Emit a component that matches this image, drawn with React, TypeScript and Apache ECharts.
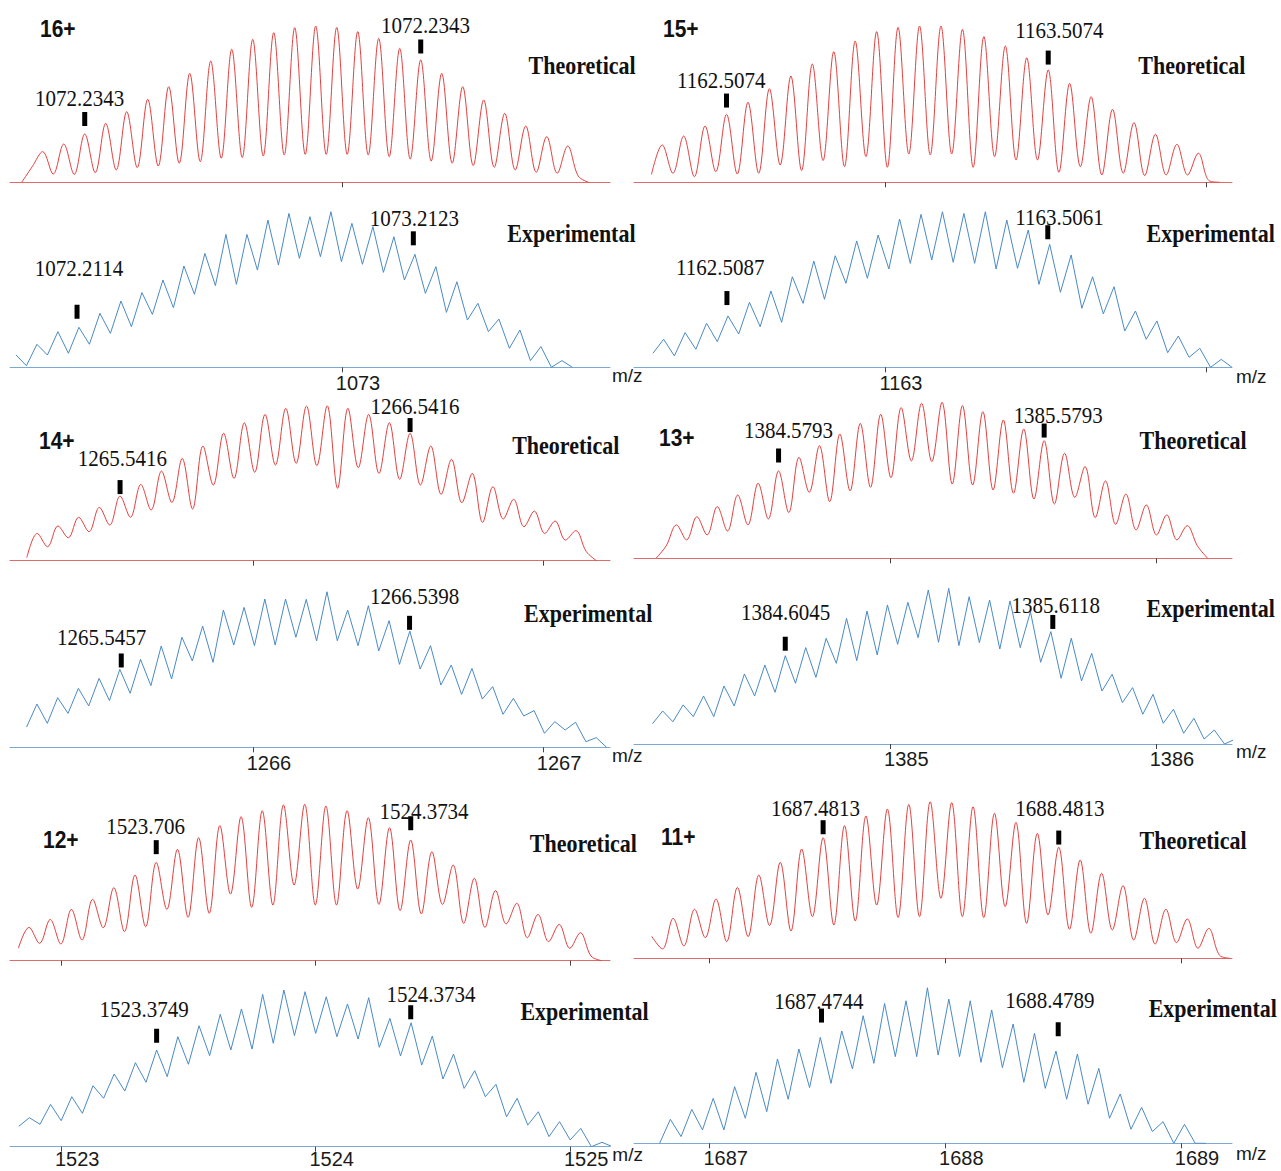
import React, { useEffect, useRef } from 'react';
import * as echarts from 'echarts';

// ---------------- DATA (relative intensity, %) ----------------
// Apex heights of the isotope peaks and the valleys between them, first peak m/z, charge.
const CHARGES = [16, 16, 15, 15, 14, 14, 13, 13, 12, 12, 11, 11];
const KINDS = ['T', 'E', 'T', 'E', 'T', 'E', 'T', 'E', 'T', 'E', 'T', 'E'];
const FIRST_PEAK_MZ = [1072.1093, 1072.092, 1162.3074, 1162.312, 1265.2559, 1265.255, 1384.1947, 1384.143, 1522.8734, 1522.8749, 1686.8449, 1686.833];

const T16_PEAKS = [19.6, 24.5, 30.9, 37.7, 45.2, 53.1, 61.2, 69.7, 77.6, 85.1, 91.5, 95.7, 98.9, 100, 99.1, 96.4, 92.1, 85.7, 78.3, 69.7, 61.2, 52.7, 44.1, 36.0, 29.2, 23.2];
const T16_VALLEYS = [5.3, 5.1, 6.2, 7.9, 9.4, 10.4, 12.2, 13.2, 15.4, 15.8, 16.8, 17.5, 17.9, 17.9, 17.9, 17.5, 16.4, 14.9, 13.6, 12.2, 10.7, 9.6, 7.9, 6.4, 5.8];
const E16_PEAKS = [14.8, 22.9, 25.7, 34.7, 42.6, 48.0, 56.1, 65.1, 73.2, 85.4, 85.4, 94.6, 98.9, 96.8, 100, 92.5, 90.4, 83.9, 72.6, 64.7, 55.0, 41.1, 31.0, 24.0, 13.3, 4.3];
const E16_VALLEYS = [7.9, 9.0, 14.8, 21.8, 26.1, 34.0, 38.3, 46.9, 52.5, 53.3, 62.5, 65.7, 70.0, 71.1, 67.9, 66.2, 61.0, 56.1, 47.5, 35.3, 30.4, 22.9, 12.2, 4.3, 0];

const T15_PEAKS = [23.9, 29.6, 36.0, 43.5, 51.2, 59.9, 68.0, 75.7, 83.6, 90.4, 96.4, 99.1, 100, 100, 97.9, 93.2, 87.2, 79.7, 71.9, 63.3, 54.8, 46.7, 38.2, 30.7, 24.3, 18.6];
const T15_VALLEYS = [5.8, 3.6, 6.8, 5.3, 5.8, 11.1, 7.5, 13.9, 10.0, 16.4, 9.6, 18.1, 17.5, 18.1, 9.6, 16.4, 14.3, 14.3, 6.4, 10.0, 4.7, 5.8, 4.3, 4.7, 4.7];
const E15_PEAKS = [18.0, 22.3, 28.3, 33.0, 41.8, 49.0, 58.2, 68.3, 71.7, 81.2, 85.0, 95.3, 98.3, 100, 98.9, 100, 94.6, 88.2, 79.0, 72.2, 58.2, 51.8, 36.2, 29.8, 20.1, 12.2, 5.1];
const E15_VALLEYS = [7.3, 11.6, 16.5, 21.4, 26.1, 28.9, 41.1, 43.7, 54.0, 57.2, 63.2, 66.8, 69.0, 67.5, 66.8, 63.2, 63.6, 53.3, 48.2, 37.9, 34.3, 23.3, 18.0, 9.4, 6.4, 0];

const T14_PEAKS = [17.6, 22.4, 28.0, 34.4, 41.7, 49.2, 57.8, 66.0, 74.0, 82.2, 89.0, 94.4, 98.3, 99.8, 100, 98.3, 94.4, 89.0, 82.2, 74.0, 65.4, 56.3, 47.7, 39.6, 32.0, 25.6, 19.4];
const T14_VALLEYS = [9.0, 14.8, 18.7, 23.0, 28.0, 32.7, 37.6, 33.3, 48.8, 53.1, 57.0, 61.7, 62.8, 61.3, 46.7, 60.0, 56.3, 52.5, 48.8, 42.8, 37.4, 24.7, 26.9, 21.9, 17.6, 13.3];
const E14_PEAKS = [27.8, 31.9, 37.9, 44.3, 50.1, 56.5, 65.1, 70.7, 77.9, 88.2, 89.9, 95.3, 95.3, 95.1, 100, 88.2, 91.0, 81.4, 74.7, 65.3, 52.9, 50.7, 39.0, 31.5, 23.6, 16.5, 16.1, 6.2];
const E14_VALLEYS = [15.4, 21.8, 26.6, 30.0, 34.7, 39.6, 43.9, 55.5, 54.6, 65.7, 65.3, 65.7, 70.7, 68.3, 68.5, 65.3, 61.9, 53.3, 50.3, 40.0, 34.0, 31.0, 21.2, 20.1, 9.0, 11.1, 3.6];

const T13_PEAKS = [21.4, 26.7, 33.1, 40.6, 48.1, 56.0, 64.7, 72.2, 79.7, 86.5, 92.3, 96.6, 99.4, 100, 97.9, 94.0, 88.7, 82.9, 75.4, 67.3, 58.8, 49.6, 41.2, 34.2, 27.8, 20.9];
const T13_VALLEYS = [11.8, 15.0, 17.5, 21.4, 25.2, 29.3, 42.3, 36.3, 43.2, 45.5, 51.7, 62.4, 62.0, 47.6, 47.0, 43.8, 41.7, 38.0, 34.8, 39.1, 26.1, 21.8, 18.2, 15.0, 11.8];
const E13_PEAKS = [21.2, 25.1, 30.8, 37.3, 45.0, 50.7, 56.7, 61.9, 67.9, 80.7, 85.4, 89.3, 91.0, 98.9, 100, 94.6, 92.5, 91.9, 85.0, 72.2, 67.9, 58.2, 44.8, 36.2, 31.9, 22.3, 16.5, 9.0];
const E13_VALLEYS = [14.3, 17.6, 17.6, 24.4, 30.8, 33.2, 39.0, 42.8, 51.8, 53.5, 57.2, 64.0, 68.3, 65.3, 63.2, 65.1, 61.0, 61.9, 52.5, 42.2, 40.5, 34.0, 26.6, 19.1, 13.3, 6.9, 3.2];

const T12_PEAKS = [21.3, 26.4, 32.8, 39.2, 46.7, 54.8, 62.9, 71.2, 78.7, 86.4, 92.1, 95.9, 99.6, 100, 98.9, 95.9, 91.5, 85.1, 77.2, 69.7, 61.2, 52.7, 44.8, 36.7, 29.6, 23.2, 17.9];
const T12_VALLEYS = [11.1, 10.7, 13.2, 21.1, 18.6, 21.7, 32.8, 27.7, 30.3, 42.6, 34.1, 35.6, 48.4, 35.6, 35.6, 45.8, 36.0, 32.0, 29.9, 36.0, 23.9, 21.3, 23.5, 14.7, 12.2, 7.9];
const E12_PEAKS = [18.5, 27.0, 31.9, 38.9, 46.4, 53.6, 61.7, 70.2, 77.2, 84.5, 87.9, 97.2, 100, 98.9, 95.7, 91.1, 95.1, 81.9, 79.1, 70.6, 59.1, 48.5, 39.8, 30.9, 22.3, 16.0, 11.7, 2.8];
const E12_VALLEYS = [14.3, 16.6, 21.3, 30.9, 35.5, 41.1, 44.7, 52.6, 58.1, 61.7, 62.3, 66.0, 70.9, 72.3, 70.2, 68.7, 63.4, 57.9, 52.1, 43.2, 37.2, 31.9, 19.1, 13.8, 6.4, 4.3, 0];

const T11_PEAKS = [25.5, 31.3, 37.9, 45.3, 53.2, 61.3, 69.8, 77.0, 84.7, 90.9, 95.3, 98.3, 100, 99.4, 96.8, 92.6, 86.8, 79.8, 70.9, 62.8, 54.3, 46.4, 38.3, 31.3, 25.1, 19.1];
const T11_VALLEYS = [7.9, 13.2, 10.6, 13.8, 20.9, 17.4, 26.6, 21.3, 23.8, 34.0, 26.0, 26.6, 38.3, 26.6, 26.0, 33.0, 22.3, 27.7, 18.5, 16.0, 18.1, 11.7, 9.1, 10.0, 6.4];
const E11_PEAKS = [15.4, 21.8, 28.9, 36.4, 45.6, 54.2, 60.6, 68.1, 72.2, 82.0, 89.9, 91.6, 100, 92.7, 91.6, 85.7, 76.7, 70.7, 59.3, 57.4, 48.2, 31.7, 23.1, 13.9, 12.2];
const E11_VALLEYS = [4.3, 8.6, 8.6, 16.1, 20.3, 28.3, 35.8, 38.5, 47.8, 51.4, 55.7, 55.7, 56.7, 55.7, 52.0, 48.6, 39.2, 35.3, 28.3, 25.1, 16.1, 9.0, 7.5, 0];

// intensities one and half a spacing before the first peak, and after the last peak
const EDGES = [
  [0, 10, 4, 0], [8, 1, 0, null],
  [null, 5, 1, 0], [null, 9, 0, null],
  [null, 2, 6, 0], [null, 13, 0, null],
  [0, 8, 8, 0], [null, 13, 0, 3],
  [null, 8, 3, 0], [null, 13, 0, null],
  [14, 6, 2, 0], [null, 0, 0, 0],
];

const PEAKS = [T16_PEAKS, E16_PEAKS, T15_PEAKS, E15_PEAKS, T14_PEAKS, E14_PEAKS, T13_PEAKS, E13_PEAKS, T12_PEAKS, E12_PEAKS, T11_PEAKS, E11_PEAKS];
const VALLEYS = [T16_VALLEYS, E16_VALLEYS, T15_VALLEYS, E15_VALLEYS, T14_VALLEYS, E14_VALLEYS, T13_VALLEYS, E13_VALLEYS, T12_VALLEYS, E12_VALLEYS, T11_VALLEYS, E11_VALLEYS];

// m/z axis: window and tick values
const AXIS_MIN = [1072.0119, 1162.2198, 1265.1621, 1384.035, 1522.7988, 1686.6788];
const AXIS_MAX = [1073.7976, 1164.0787, 1267.2310, 1386.2865, 1525.1564, 1689.2164];
const TICKS = [[1073], [1163, 1164], [1266, 1267], [1385, 1386], [1523, 1524, 1525], [1687, 1688, 1689]];
const TICK_LABELS = [[1073], [1163], [1266, 1267], [1385, 1386], [1523, 1524, 1525], [1687, 1688, 1689]];

// annotated peaks
const ANNOT_TEXT = [
  ['1072.2343', '1072.2343'], ['1072.2114', '1073.2123'],
  ['1162.5074', '1163.5074'], ['1162.5087', '1163.5061'],
  ['1265.5416', '1266.5416'], ['1265.5457', '1266.5398'],
  ['1384.5793', '1385.5793'], ['1384.6045', '1385.6118'],
  ['1523.706', '1524.3734'], ['1523.3749', '1524.3734'],
  ['1687.4813', '1688.4813'], ['1687.4744', '1688.4789'],
];
const MARK_MZ = [
  [1072.2343, 1073.2343], [1072.2114, 1073.2123],
  [1162.5074, 1163.5074], [1162.5087, 1163.5061],
  [1265.5416, 1266.5416], [1265.5457, 1266.5398],
  [1384.5793, 1385.5793], [1384.6045, 1385.6118],
  [1523.3734, 1524.3734], [1523.3749, 1524.3734],
  [1687.4813, 1688.4813], [1687.4744, 1688.4789],
];
const MARK_Y = [
  [40.5, 86.9], [35.7, 82.9], [52.3, 79.8], [44.5, 86.8], [47.5, 87.5], [55.8, 80.0],
  [65.9, 81.9], [64.4, 78.4], [72.6, 87.9], [70.8, 85.8], [83.7, 77.1], [82.1, 73.3],
];
const LABEL_MZ = [
  [1072.219, 1073.2485], [1072.2173, 1073.2152],
  [1162.4911, 1163.5421], [1162.488, 1163.5424],
  [1265.5497, 1266.5586], [1265.4779, 1266.5576],
  [1384.6167, 1385.6322], [1384.6058, 1385.6227],
  [1523.332, 1524.4256], [1523.3257, 1524.4530],
  [1687.449, 1688.4861], [1687.463, 1688.4437],
];
const LABEL_Y = [
  [53.9, 100.6], [64.1, 95.9], [65.5, 97.4], [64.7, 96.8], [66.1, 99.9], [71.1, 97.4],
  [82.2, 91.9], [85.0, 89.3], [86.3, 95.8], [87.7, 97.3], [95.8, 95.8], [91.6, 92.1],
];

// ---------------- LAYOUT ----------------
const GRIDS = [
  [10, 26, 600, 156.3], [10, 211.7, 600, 155.6],
  [634, 26, 598, 156.3], [634, 211.7, 598, 155.6],
  [10, 405.7, 600, 155], [10, 591.7, 600, 155.6],
  [634, 402.3, 598, 156], [634, 588.3, 598, 155.7],
  [10, 804.3, 600, 156.4], [10, 990, 600, 156.7],
  [634, 801.7, 598, 156.6], [634, 987.7, 598, 155.6],
];
const LABEL_MARGIN = [0, 6, 0, 6, 0, 6, 0, 5, 0, 2, 0, 5];
const NAME_PAD = [0, -1, 0, 0, 0, -1, 0, -2, 0, -2, 0, 1];
const NAME_GAP = [0, 2, 0, 4, 0, 2, 0, 4, 0, 2, 0, 4];
const CHARGE_POS = [[40, 29], [663, 29], [39, 440.6], [659, 438.3], [43, 840], [661, 836.7]];
const KIND_POS = [
  [528.6, 65], [507.3, 233.3], [1138.3, 65], [1146.6, 233.3],
  [512.2, 445], [524, 613], [1139.5, 440.8], [1146.6, 608.3],
  [529.8, 843.3], [520.4, 1011.7], [1139.5, 840], [1148.7, 1008.3],
];
const TEXT_STRETCH = 1.14;

const RED = '#e2403f';
const BLUE = '#4a8ac4';
const SANS = '"Liberation Sans", Arial, sans-serif';
const SERIF = '"Liberation Serif", "Times New Roman", serif';

function profile(first: number, z: number, peaks: number[], valleys: number[], edges: (number | null)[]) {
  const step = 1 / z;
  const pts: number[][] = [];
  if (edges[0] != null) pts.push([first - step, edges[0] as number]);
  if (edges[1] != null) pts.push([first - step / 2, edges[1] as number]);
  peaks.forEach((p, i) => {
    pts.push([first + i * step, p]);
    if (i < valleys.length) pts.push([first + (i + 0.5) * step, valleys[i]]);
  });
  const last = first + (peaks.length - 1) * step;
  if (edges[2] != null) pts.push([last + step / 2, edges[2] as number]);
  if (edges[3] != null) pts.push([last + step, edges[3] as number]);
  return pts;
}

function buildOption() {
  const grid: any[] = [];
  const xAxis: any[] = [];
  const yAxis: any[] = [];
  const series: any[] = [];
  const graphic: any[] = [];

  for (let i = 0; i < 12; i++) {
    const row = Math.floor(i / 4);
    const col = Math.floor(i / 2) % 2;
    const a = row * 2 + col; // axis group index
    const isExp = KINDS[i] === 'E';
    const [l, t, w, h] = GRIDS[i];
    grid.push({ left: l, top: t, width: w, height: h });
    xAxis.push({
      gridIndex: i,
      type: 'value',
      min: AXIS_MIN[a],
      max: AXIS_MAX[a],
      axisLine: { show: true, lineStyle: { color: isExp ? '#7aaad4' : '#e26a6a', width: 1 } },
      axisTick: { show: true, length: 5, customValues: TICKS[a], lineStyle: { color: '#444', width: 1 } },
      axisLabel: isExp
        ? {
            show: true,
            customValues: TICK_LABELS[a],
            fontSize: 20,
            fontFamily: SANS,
            color: '#1a1a1a',
            margin: LABEL_MARGIN[i],
            align: 'center',
            padding: [0, 0, 0, 32],
            formatter: (v: number) => String(Math.round(v)),
          }
        : { show: false },
      splitLine: { show: false },
      name: isExp ? 'm/z' : '',
      nameLocation: 'end',
      nameGap: NAME_GAP[i],
      nameTextStyle: {
        fontSize: 19,
        fontFamily: SANS,
        color: '#1a1a1a',
        align: 'left',
        verticalAlign: 'top',
        padding: [NAME_PAD[i], 0, 0, 0],
      },
    });
    yAxis.push({ gridIndex: i, type: 'value', min: 0, max: 100, show: false });

    series.push({
      type: 'line',
      xAxisIndex: i,
      yAxisIndex: i,
      data: profile(FIRST_PEAK_MZ[i], CHARGES[i], PEAKS[i], VALLEYS[i], EDGES[i]),
      showSymbol: false,
      symbol: 'none',
      smooth: isExp ? false : 0.35,
      lineStyle: { color: isExp ? BLUE : RED, width: 1 },
      silent: true,
      z: 2,
    });

    const p = i;
    series.push({
      type: 'custom',
      xAxisIndex: i,
      yAxisIndex: i,
      coordinateSystem: 'cartesian2d',
      clip: false,
      silent: true,
      z: 5,
      data: MARK_MZ[p].map((m, k) => [m, MARK_Y[p][k]]),
      renderItem: (params: any, api: any) => {
        const k = params.dataIndex;
        const m = api.coord([MARK_MZ[p][k], MARK_Y[p][k]]);
        const lb = api.coord([LABEL_MZ[p][k], LABEL_Y[p][k]]);
        return {
          type: 'group',
          children: [
            { type: 'rect', shape: { x: m[0] - 2.5, y: m[1] - 7, width: 5, height: 14 }, style: { fill: '#000' } },
            {
              type: 'text',
              x: lb[0],
              y: lb[1],
              scaleY: TEXT_STRETCH,
              style: {
                text: ANNOT_TEXT[p][k],
                font: '21px ' + SERIF,
                fill: '#111',
                align: 'center',
                verticalAlign: 'middle',
                textAlign: 'center',
                textVerticalAlign: 'middle',
              },
            },
          ],
        };
      },
    });

    graphic.push({
      type: 'text',
      x: KIND_POS[i][0],
      y: KIND_POS[i][1],
      scaleY: TEXT_STRETCH,
      style: {
        text: isExp ? 'Experimental' : 'Theoretical',
        font: 'bold 22px ' + SERIF,
        fill: '#111',
        align: 'left',
        verticalAlign: 'middle',
        textAlign: 'left',
        textVerticalAlign: 'middle',
      },
    });
  }

  CHARGE_POS.forEach((pos, a) => {
    graphic.push({
      type: 'text',
      x: pos[0],
      y: pos[1],
      scaleY: TEXT_STRETCH,
      style: {
        text: CHARGES[a * 2] + '+',
        font: 'bold 21px ' + SANS,
        fill: '#111',
        align: 'left',
        verticalAlign: 'middle',
        textAlign: 'left',
        textVerticalAlign: 'middle',
      },
    });
  });

  return { animation: false, backgroundColor: '#ffffff', grid, xAxis, yAxis, series, graphic };
}

export default function App() {
  const ref = useRef<HTMLDivElement>(null);
  useEffect(() => {
    if (!ref.current) return;
    const chart = echarts.init(ref.current, undefined, { renderer: 'svg' });
    chart.setOption(buildOption() as any);
    return () => chart.dispose();
  }, []);
  return (
    <div
      ref={ref}
      style={{ position: 'absolute', left: 0, top: 0, width: 1281, height: 1171, background: '#fff' }}
    />
  );
}
